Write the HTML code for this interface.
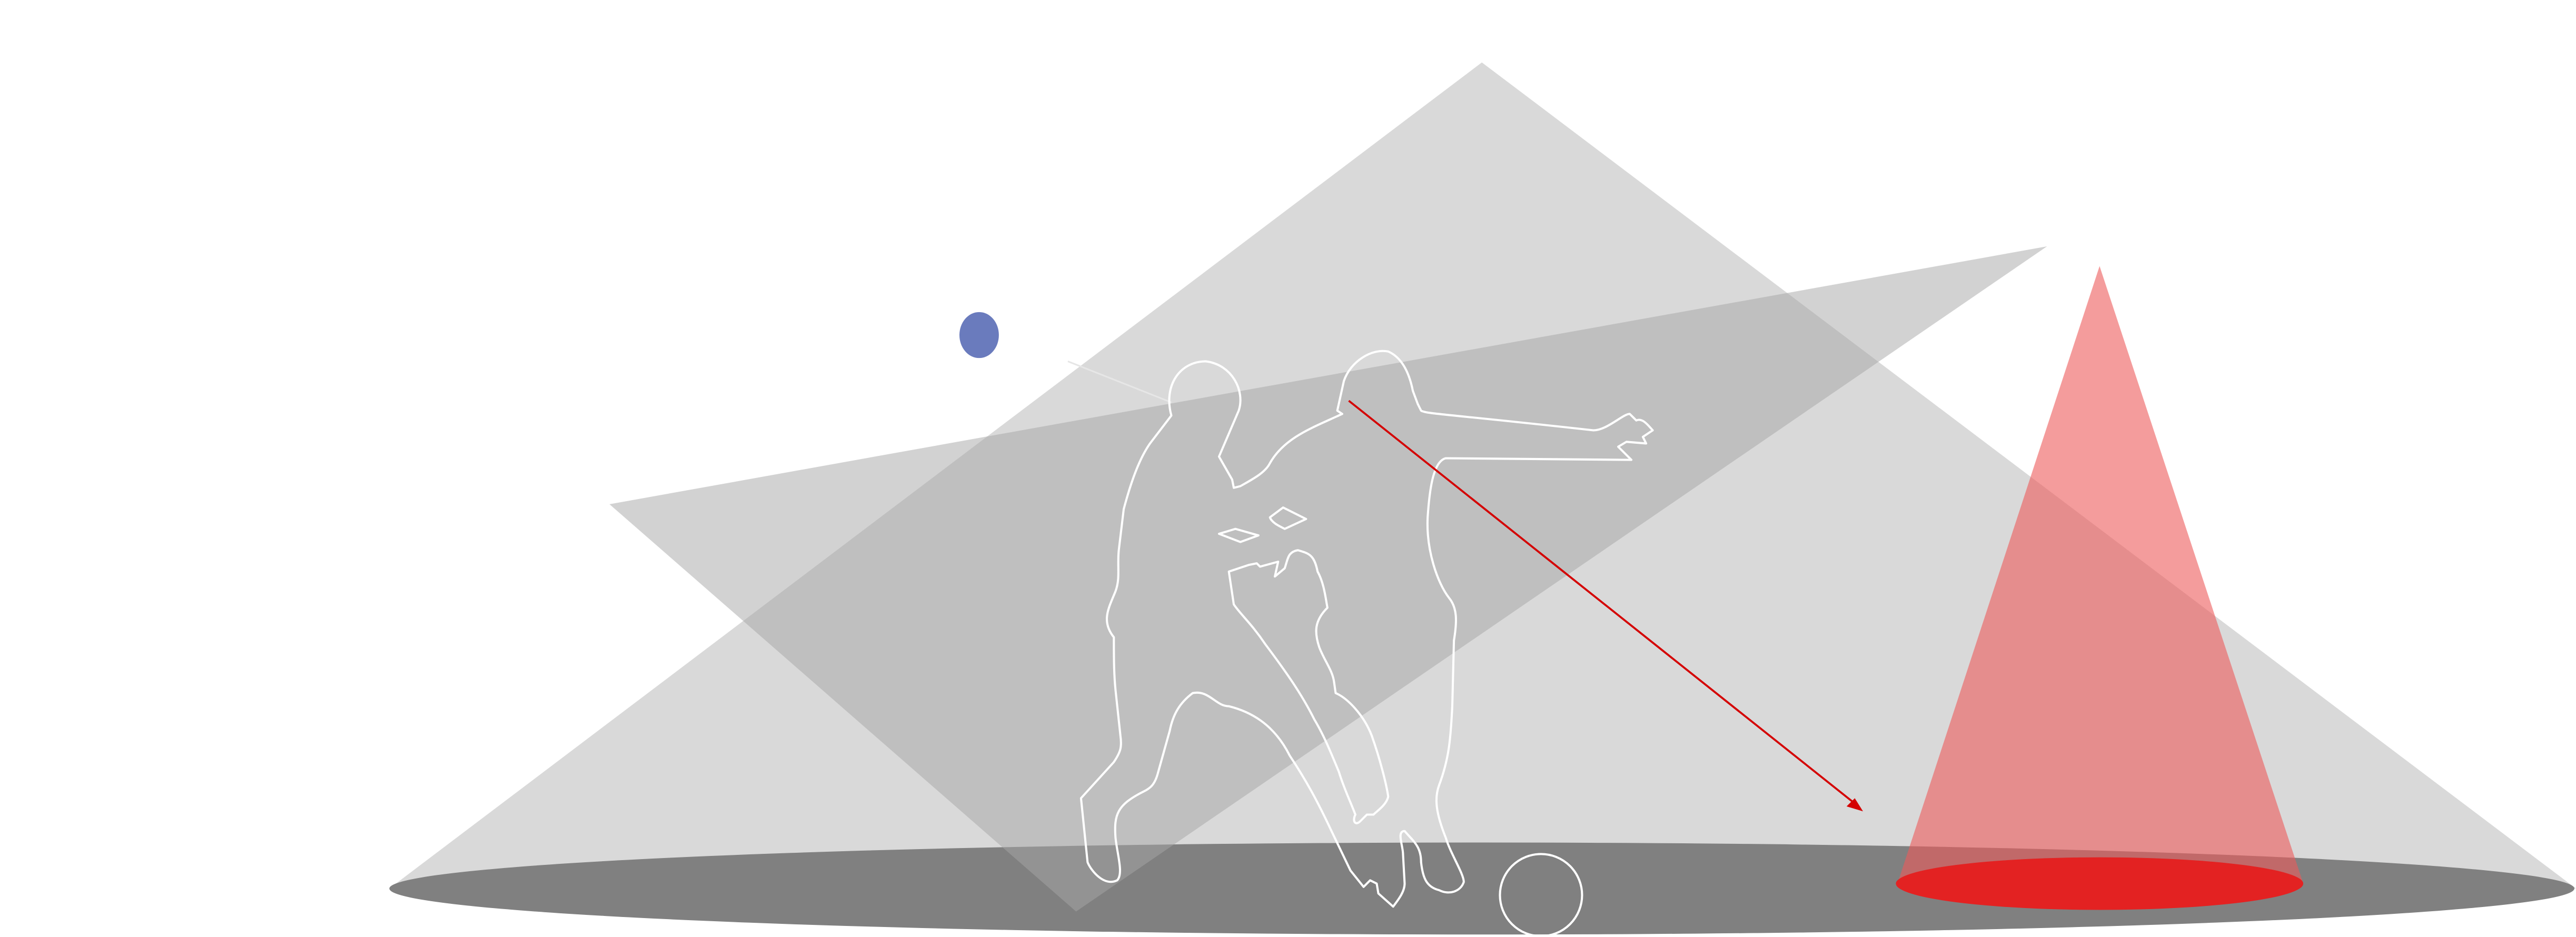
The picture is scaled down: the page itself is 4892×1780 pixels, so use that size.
<!DOCTYPE html>
<html><head><meta charset="utf-8"><style>
html,body{margin:0;padding:0;background:#fff;}
svg{display:block;}
</style></head><body>
<svg width="4892" height="1780" viewBox="0 0 1568 570.5" xmlns="http://www.w3.org/2000/svg">
<polygon points="902,38 237,541 1568,541" fill="#d9d9d9"/>
<ellipse cx="902" cy="541" rx="665" ry="28" fill="#808080"/>
<polygon points="371,307 1246,150 655,555" fill="#a6a6a6" fill-opacity="0.5"/>
<polygon points="1278,162 1155,538 1402,538" fill="#ec5a5a" fill-opacity="0.6"/>
<ellipse cx="1278" cy="538" rx="124" ry="16" fill="#e32222"/>
<ellipse cx="596" cy="204" rx="12" ry="14" fill="#6a7bbd"/>
<line x1="650" y1="220" x2="713" y2="245" stroke="#e6e6e6" stroke-width="1"/>
<g fill="none" stroke="#fff" stroke-width="1.3" stroke-linejoin="round">
<path d="M713,253 C708,235 718,220 734,220 C750,222 758,238 754,250 L742,278 L750,292 L751,297 L755,296 C762,292 770,288 773,282 C782,266 800,260 817,252 L814,250 L818,232 C822,220 835,212 845,214 C854,218 858,228 860,238 L863,246 L865,250 C868,252 880,252 970,262 C978,262 988,252 992,252 L996,256 C1000,254 1004,260 1006,262 L1000,266 L1002,270 L990,269 L985,272 L993,280 L880,279 C872,281 870,300 869,315 C868,335 875,355 882,364 C887,370 887,378 885,390 L884,430 C883,450 882,462 876,478 C873,486 874,495 880,510 C883,520 891,532 891,537 C889,543 882,545 876,542 C868,540 866,534 865,525 C865,515 860,512 855,506 C850,506 854,515 854,520 L855,538 C855,543 851,548 848,552 L839,544 L838,538 L834,536 L830,540 L822,530 L810,505 C802,488 795,475 785,460 C775,440 760,433 748,430 C740,430 736,420 726,422 C718,428 714,435 712,445 L705,470 C703,478 700,480 696,482 C680,490 678,496 679,510 C680,520 684,532 680,536 C672,540 664,530 662,525 L658,486 L678,464 C682,458 683,455 682,448 L679,420 C678,410 678,400 678,388 C670,378 675,370 679,360 C682,352 680,345 681,335 L684,310 C688,295 693,280 700,270 L713,253 Z"/>
<path d="M748,348 L760,344 L765,343 L767,345 L778,342 L776,351 L782,346 C784,340 784,336 790,335 C797,337 800,338 802,348 C806,355 807,365 808,370 C800,378 800,385 803,394 C806,402 811,408 812,415 L813,422 C820,425 830,435 835,448 C840,462 844,478 845,485 C844,490 838,494 836,496 L832,496 L828,500 C825,503 823,500 825,496 C822,488 818,480 815,470 C810,458 806,448 800,438 C792,422 782,408 770,392 C762,380 755,374 751,368 Z"/>
<path d="M742,325 L752,322 L766,326 L755,330 Z"/>
<path d="M773,315 L781,309 L795,316 L782,322 C778,320 774,318 773,315 Z"/>
</g>
<circle cx="938" cy="545" r="25" fill="none" stroke="#fff" stroke-width="1.3"/>
<line x1="821" y1="244" x2="1130" y2="490" stroke="#d40000" stroke-width="1.2"/>
<polygon points="1134,494 1124,491 1129,486" fill="#d40000"/>
</svg>
</body></html>
